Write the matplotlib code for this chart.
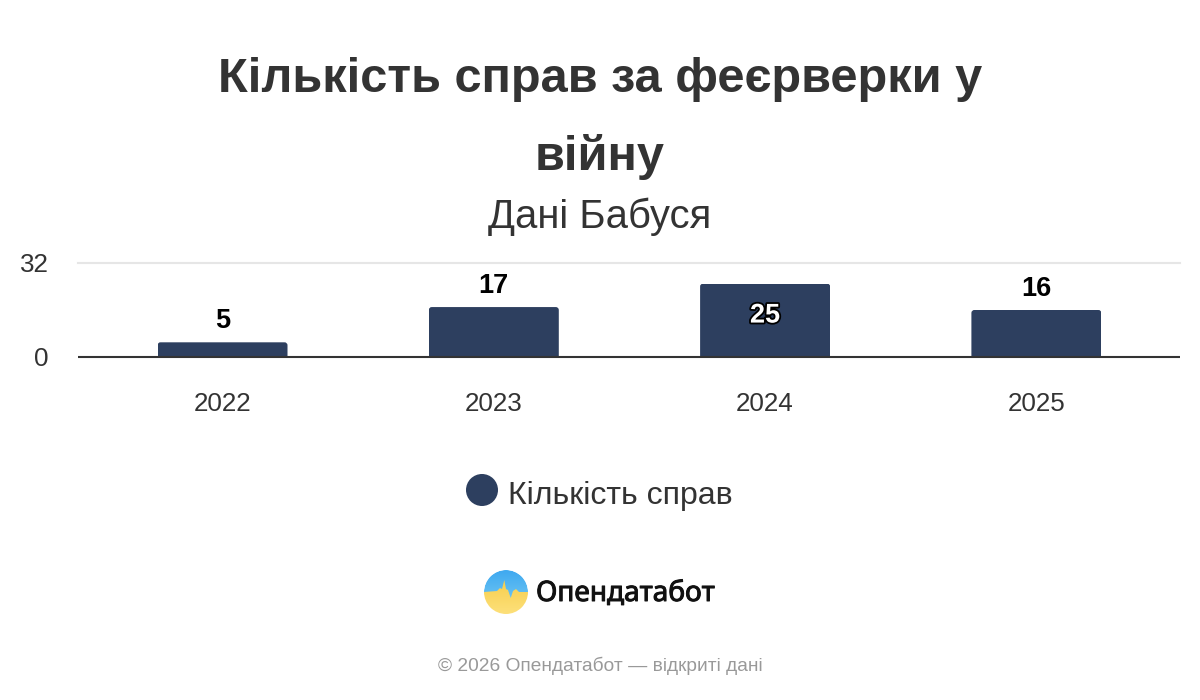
import matplotlib.pyplot as plt
import numpy as np
from matplotlib.colors import LinearSegmentedColormap
from matplotlib.patches import Circle, FancyBboxPatch, Polygon
import matplotlib.patheffects as path_effects

plt.rcParams['font.family'] = ['Liberation Sans', 'DejaVu Sans']

YEARS = ['2022', '2023', '2024', '2025']
CASES = [5, 17, 25, 16]
Y_TICKS = [0, 32]

TITLE_LINES = ['Кількість справ за феєрверки у', 'війну']
SUBTITLE = 'Дані Бабуся'
SERIES_NAME = 'Кількість справ'
BRAND = 'Опендатабот'
FOOTER = '© 2026 Опендатабот — відкриті дані'

BAR_COLOR = '#2d3f5f'
TEXT_COLOR = '#333333'
WIDTH, HEIGHT = 1200, 700

fig = plt.figure(figsize=(WIDTH / 100, HEIGHT / 100), dpi=100, facecolor='white')

# plot area, given in pixels from the top left corner
left, right, top, bottom = 78, 1180, 263, 357
ax = fig.add_axes([left / WIDTH, 1 - bottom / HEIGHT, (right - left) / WIDTH, (bottom - top) / HEIGHT])

x = np.arange(len(YEARS))
step = 271.3
ax.set_xlim((left - 222.5) / step, (right - 222.5) / step)
ax.set_ylim(0, 32)

bar_width = 130 / step
bars = ax.bar(x, CASES, width=bar_width, color=BAR_COLOR, zorder=2)

# only the top corners are rounded, the rest of the clip box hangs below the axis
y_per_px = 32 / (bottom - top)
for bar, value in zip(bars, CASES):
    clip = FancyBboxPatch((bar.get_x(), -5), bar_width, value + 5,
                          boxstyle=f'round,pad=0,rounding_size={3 / step}',
                          mutation_aspect=y_per_px * step,
                          transform=ax.transData, fill=False, edgecolor='none')
    ax.add_patch(clip)
    bar.set_clip_path(clip)

for pos, value in zip(x, CASES):
    if value == max(CASES):
        ax.annotate(str(value), (pos, value), xytext=(0, -32 * 0.72), textcoords='offset points',
                    ha='center', va='center', fontsize=19.5, fontweight='bold', color='white', zorder=4,
                    path_effects=[path_effects.withStroke(linewidth=2.6, foreground='black')])
    else:
        ax.annotate(str(value), (pos, value), xytext=(0, 21 * 0.72), textcoords='offset points',
                    ha='center', va='center', fontsize=19.5, fontweight='bold', color='black', zorder=4)

ax.set_xticks(x, YEARS)
ax.set_yticks(Y_TICKS, [str(t) for t in Y_TICKS])
ax.tick_params(axis='both', length=0, labelsize=18.7, labelcolor=TEXT_COLOR)
ax.tick_params(axis='x', pad=25)
ax.tick_params(axis='y', pad=21)
ax.grid(axis='y', color='#e6e6e6', linewidth=1.5, zorder=1, clip_on=False)
ax.set_axisbelow(True)
for side in ['top', 'right', 'left']:
    ax.spines[side].set_visible(False)
ax.spines['bottom'].set_color(TEXT_COLOR)
ax.spines['bottom'].set_linewidth(1.5)
ax.spines['bottom'].set_zorder(3)
ax.spines['bottom'].set_capstyle('butt')
ax.get_ygridlines()[0].set_visible(False)

# overlay in pixel coordinates for the text blocks, legend and logo
page = fig.add_axes([0, 0, 1, 1], facecolor='none')
page.set_xlim(0, WIDTH)
page.set_ylim(HEIGHT, 0)
page.axis('off')

page.text(600, 80, TITLE_LINES[0], ha='center', va='center', fontsize=35.1, fontweight='bold', color=TEXT_COLOR)
page.text(600, 157, TITLE_LINES[1], ha='center', va='center', fontsize=35.1, fontweight='bold', color=TEXT_COLOR)
page.text(600, 217, SUBTITLE, ha='center', va='center', fontsize=28.8, color=TEXT_COLOR)

page.add_patch(Circle((482, 490), 16, color=BAR_COLOR, linewidth=0))
page.text(508, 496, SERIES_NAME, ha='left', va='center', fontsize=23, color=TEXT_COLOR)

# logo: blue sky over a yellow field with a pulse line between them
cx, cy, r = 506, 592, 22
sky = LinearSegmentedColormap.from_list('sky', ['#3fa9f0', '#7fd0f5'])
field = LinearSegmentedColormap.from_list('field', ['#f5c93f', '#fde07a'])
ramp = np.linspace(0, 1, 64).reshape(-1, 1)
extent = (cx - r, cx + r, cy + r, cy - r)
logo_clip = Circle((cx, cy), r, transform=page.transData)
sky_img = page.imshow(ramp, cmap=sky, extent=extent, aspect='auto', zorder=2)
sky_img.set_clip_path(logo_clip)
pulse = Polygon([(484, 592), (497, 591), (500, 588), (502, 589), (504.3, 580), (506, 589), (508, 590),
                 (510.7, 598), (513, 591), (516, 589), (519, 592), (528, 592), (528, 615), (484, 615)],
                transform=page.transData, facecolor='none', edgecolor='none')
page.add_patch(pulse)
field_img = page.imshow(ramp, cmap=field, extent=extent, aspect='auto', zorder=3)
field_img.set_clip_path(pulse)
# keep the field inside the disc as well
mask = Circle((cx, cy), r + 6, transform=page.transData, facecolor='none', edgecolor='white', linewidth=12 * 0.72, zorder=4)
page.add_patch(mask)
page.set_xlim(0, WIDTH)
page.set_ylim(HEIGHT, 0)

page.text(536, 594, BRAND, ha='left', va='center', fontsize=20.2, color='#111111',
          family=['Noto Sans', 'DejaVu Sans'], zorder=5,
          path_effects=[path_effects.withStroke(linewidth=0.7, foreground='#111111')])
page.text(600, 666, FOOTER, ha='center', va='center', fontsize=13.8, color='#999999')

fig.savefig('out.png', dpi=100)
